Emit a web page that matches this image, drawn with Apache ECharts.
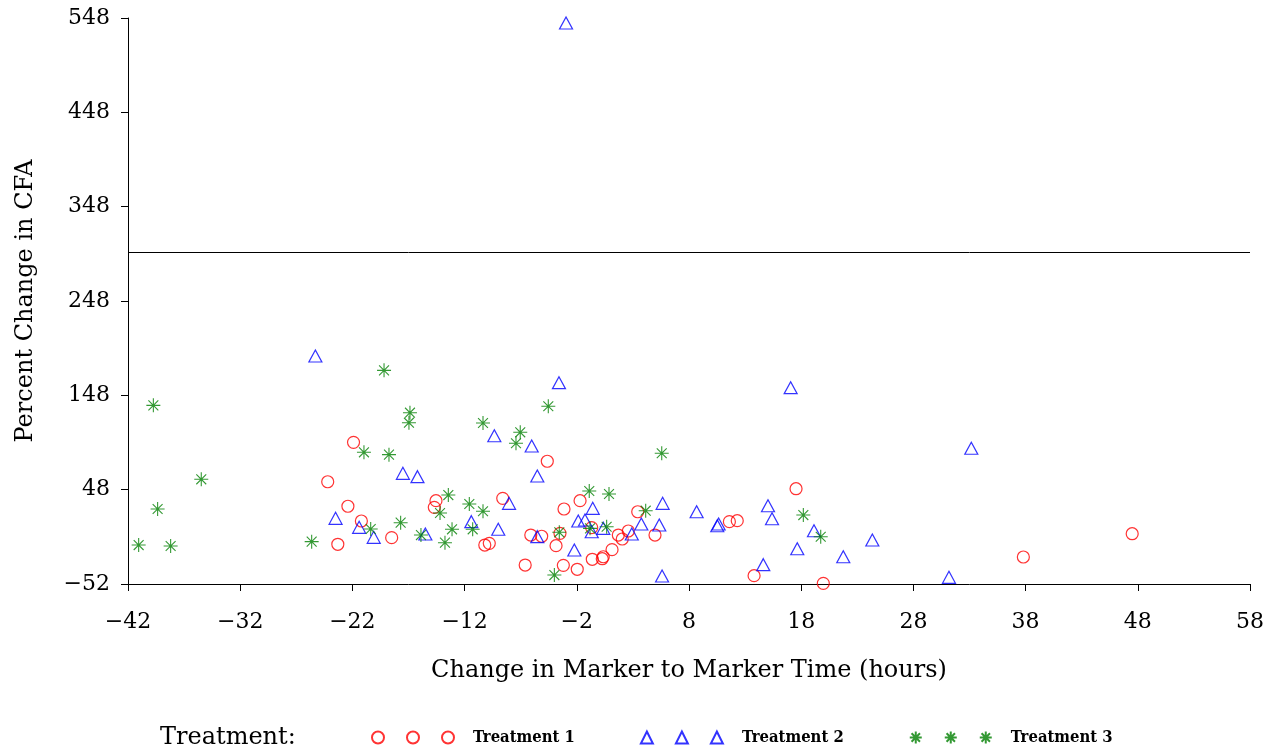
<!DOCTYPE html>
<html>
<head>
<meta charset="utf-8">
<script src="https://cdn.jsdelivr.net/npm/echarts@6/dist/echarts.min.js"></script>
<style>
  html, body { margin: 0; padding: 0; background: #fff; }
  #chart { width: 1272px; height: 748px; }
</style>
</head>
<body>
<div id="chart"></div>
<script>
// Treatment 1 (red circles)
var t1X = [-24.2, -21.9, -22.4, -21.2, -23.3, -18.5, -14.55, -14.7, -8.6, -4.63,
           -6.1, -5.13, -10.2, -9.8, -6.6, -3.85, -3.14, -1.71, -3.2, -1.96,
           -3.5, -0.67, -0.62, 0.27, 0.36, 1.14, 1.7, 2.05, 2.59, 3.43,
           4.97, 11.6, 12.3, 17.54, 13.8, 19.97, 37.8, 47.5];
var t1Y = [56.4, 98.2, 30.4, 14.8, -9.9, -2.9, 36.3, 29.3, 38.8, 78.1,
           -0.1, -1.4, -10.7, -8.9, -31.9, -11.4, 27.5, 36.3, -32.2, -36.4,
           1.7, 7.7, -25.8, -25.2, -23.1, -15.6, -0.1, -4.3, 4.2, 24.6,
           -0.1, 14.1, 15.1, 49.0, -43.2, -51.3, -23.4, 1.3];

// Treatment 2 (blue triangles)
var t2X = [-25.3, -17.5, -16.2, -23.5, -21.4, -20.1, -15.5, -11.4, -9.35, -9.0,
           -8.04, -6.02, -5.52, -5.52, -3.59, -2.96, -2.22, -1.87, -1.27, -0.67,
           -0.58, 0.36, 2.9, 3.75, 5.35, 5.65, 5.6, 8.68, 10.52, 10.64,
           14.62, 15.04, 15.4, 17.06, 17.65, 19.14, 21.75, 24.34, 31.17, 33.16];
var t2Y = [189.7, 65.3, 61.8, 17.6, 8.1, -2.5, 1.0, 14.1, 105.2, 6.0,
           33.5, 94.3, 62.5, -1.8, 161.4, 542.7, -16.0, 14.8, 15.8, 3.4,
           28.2, 7.0, 1.0, 11.6, 10.5, 33.5, -43.5, 24.6, 9.8, 11.6,
           -31.5, 31.0, 17.2, 156.1, -14.6, 4.5, -23.1, -5.4, -44.9, 91.9];

// Treatment 3 (green stars)
var t3X = [-41.05, -39.74, -39.36, -38.2, -35.47, -25.63, -20.97, -20.37, -19.18, -18.74,
           -17.7, -16.87, -16.96, -15.89, -14.19, -13.75, -13.45, -13.12, -11.58, -11.28,
           -10.36, -10.36, -7.42, -7.04, -4.54, -4.0, -3.56, -0.89, -0.82, 0.66,
           0.87, 4.14, 5.57, 18.19, 19.74];
var t3Y = [-10.7, 137.4, 27.5, -11.7, 59.0, -7.1, 87.6, 6.3, 174.5, 85.1,
           13.0, 129.6, 119.0, -0.1, 23.3, -8.2, 42.3, 6.0, 32.8, 6.0,
           118.7, 25.1, 97.2, 108.8, 136.4, -42.5, 2.8, 46.6, 7.0, 8.7,
           43.4, 25.7, 86.6, 21.1, -1.9];

var refLine = 300;

var serif = 'DejaVu Serif';

function pairs(xs, ys) {
    var out = [];
    xs.forEach(function (x, i) { out.push([x, ys[i]]); });
    return out;
}
function minus(v) { return String(v).replace('-', '\u2212'); }

var starPath = 'path://M7,0L7,14M0,7L14,7M2.05,2.05L11.95,11.95M2.05,11.95L11.95,2.05';

// legend icons: three symbols in a row
var circles3 = 'path://M0,6a6,6 0 1,0 12,0a6,6 0 1,0 -12,0Z' +
    'M35,6a6,6 0 1,0 12,0a6,6 0 1,0 -12,0Z' +
    'M70,6a6,6 0 1,0 12,0a6,6 0 1,0 -12,0Z';
var tri3 = 'path://M6,0L12,12L0,12Z M41,0L47,12L35,12Z M76,0L82,12L70,12Z';
var star3 = 'path://' + [6, 41, 76].map(function (c) {
    return 'M' + c + ',0L' + c + ',12M' + (c - 6) + ',6L' + (c + 6) + ',6M' +
        (c - 4.2) + ',1.8L' + (c + 4.2) + ',10.2M' + (c - 4.2) + ',10.2L' + (c + 4.2) + ',1.8';
}).join('');

var myChart = echarts.init(document.getElementById('chart'));

var option = {
    backgroundColor: '#fff',
    animation: false,
    grid: { left: 128, right: 22, top: 18, bottom: 164 },
    xAxis: {
        type: 'value',
        min: -42, max: 58, interval: 10,
        name: 'Change in Marker to Marker Time (hours)',
        nameLocation: 'middle',
        nameGap: 75,
        nameTextStyle: { fontFamily: serif, fontSize: 24, color: '#000' },
        axisLine: { onZero: false, lineStyle: { color: '#000', width: 1 } },
        axisTick: { length: 7, lineStyle: { color: '#000' } },
        axisLabel: { fontFamily: serif, fontSize: 22, color: '#000', margin: 27, formatter: minus },
        splitLine: { show: false }
    },
    yAxis: {
        type: 'value',
        min: -52, max: 548, interval: 100,
        name: 'Percent Change in CFA',
        nameLocation: 'middle',
        nameGap: 90,
        nameTextStyle: { fontFamily: serif, fontSize: 24, color: '#000' },
        axisLine: { show: true, onZero: false, lineStyle: { color: '#000', width: 1 } },
        axisTick: { show: true, length: 7, lineStyle: { color: '#000' } },
        axisLabel: { fontFamily: serif, fontSize: 22, color: '#000', margin: 18, formatter: minus },
        splitLine: { show: false }
    },
    legend: {
        left: 366,
        top: 724,
        itemWidth: 82,
        itemHeight: 12,
        itemGap: 65,
        textStyle: {
            fontFamily: 'DejaVu Serif Condensed', fontWeight: 'bold', fontSize: 16.5, color: '#000',
            padding: [0, 0, 0, 14]
        },
        data: [
            { name: 'Treatment 1', icon: circles3 },
            { name: 'Treatment 2', icon: tri3 },
            { name: 'Treatment 3', icon: star3 }
        ]
    },
    graphic: [{
        type: 'text',
        left: 160,
        top: 726,
        style: { text: 'Treatment:', fontFamily: serif, fontSize: 24, fill: '#000' }
    }],
    series: [
        {
            name: 'Treatment 1',
            type: 'scatter',
            symbol: 'circle',
            symbolSize: 12,
            itemStyle: { color: 'rgba(0,0,0,0)', borderColor: '#ff0000', borderWidth: 1.2 },
            data: pairs(t1X, t1Y),
            markLine: {
                silent: true,
                symbol: 'none',
                label: { show: false },
                lineStyle: { color: '#000', width: 1, type: 'solid' },
                data: [{ yAxis: refLine }]
            }
        },
        {
            name: 'Treatment 2',
            type: 'scatter',
            symbol: 'triangle',
            symbolSize: [13, 12],
            itemStyle: { color: 'rgba(0,0,0,0)', borderColor: '#0000ff', borderWidth: 1.2 },
            data: pairs(t2X, t2Y)
        },
        {
            name: 'Treatment 3',
            type: 'scatter',
            symbol: starPath,
            symbolSize: 14,
            itemStyle: { color: 'rgba(0,0,0,0)', borderColor: '#008000', borderWidth: 1.1 },
            data: pairs(t3X, t3Y)
        }
    ]
};

option && myChart.setOption(option);
</script>
</body>
</html>
